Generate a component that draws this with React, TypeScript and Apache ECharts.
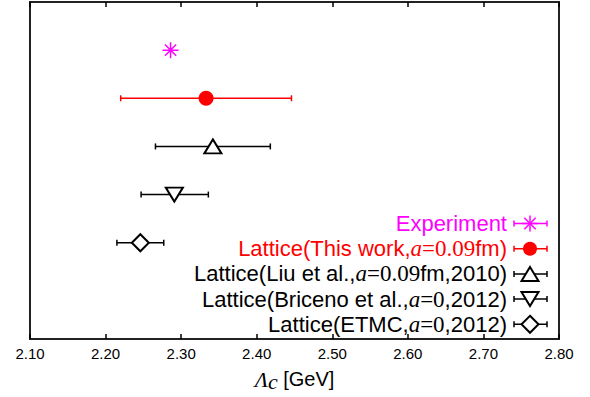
import React, { useEffect, useRef } from "react";
import * as echarts from "echarts";

const names = [
  "Experiment",
  "Lattice(This work,{i|a}{s|=0.09}fm)",
  "Lattice(Liu et al.,{i|a}{s|=0.09}fm,2010)",
  "Lattice(Briceno et al.,{i|a}{s|=0},2012)",
  "Lattice(ETMC,{i|a}{s|=0},2012)",
];
const centers = [2.286, 2.333, 2.342, 2.291, 2.246];
const lows = [2.286, 2.22, 2.266, 2.247, 2.215];
const highs = [2.286, 2.446, 2.418, 2.336, 2.277];
const rows = [6, 5, 4, 3, 2];
const xTicks = [2.1, 2.2, 2.3, 2.4, 2.5, 2.6, 2.7, 2.8];

const colors = ["#ff00ff", "#ff0000", "#000000", "#000000", "#000000"];
const ASTERISK = "path://M8 0L8 16M0 8L16 8M2.4 2.4L13.6 13.6M13.6 2.4L2.4 13.6";

const symbolDefs = [
  { symbol: ASTERISK, size: [16, 16], rotate: 0, fill: "none", stroke: "#ff00ff", bw: 1.5 },
  { symbol: "circle", size: 15, rotate: 0, fill: "#ff0000", stroke: "#ff0000", bw: 0 },
  { symbol: "triangle", size: [17, 14], rotate: 0, fill: "#ffffff", stroke: "#000000", bw: 2 },
  { symbol: "triangle", size: [17, 14], rotate: 180, fill: "#ffffff", stroke: "#000000", bw: 2 },
  { symbol: "diamond", size: [17, 17], rotate: 0, fill: "#ffffff", stroke: "#000000", bw: 2 },
];

const SANS = "'Liberation Sans', Arial, Helvetica, sans-serif";
const SERIF = "'Liberation Serif', 'Times New Roman', serif";

function legendGraphics() {
  const els: any[] = [];
  const x0 = 514;
  const x1 = 547;
  const cx = 530;
  names.forEach((n, i) => {
    const y = 223.5 + 25.2 * i;
    const col = colors[i];
    els.push({
      type: "text",
      x: 507,
      y: y,
      style: {
        text: n,
        fill: col,
        font: `22px ${SANS}`,
        align: "right",
        verticalAlign: "middle",
        rich: {
          i: { fontFamily: SERIF, fontStyle: "italic", fontSize: 23, fill: col },
          s: { fontFamily: SERIF, fontSize: 23, fill: col },
        },
      },
    });
    const lw = 1.5;
    els.push({ type: "line", shape: { x1: x0, y1: y, x2: x1, y2: y }, style: { stroke: col, lineWidth: lw } });
    els.push({ type: "line", shape: { x1: x0, y1: y - 3, x2: x0, y2: y + 3 }, style: { stroke: col, lineWidth: lw } });
    els.push({ type: "line", shape: { x1: x1, y1: y - 3, x2: x1, y2: y + 3 }, style: { stroke: col, lineWidth: lw } });
    if (i === 0) {
      const r = 8;
      const d = 5.7;
      [
        [cx, y - r, cx, y + r],
        [cx - r, y, cx + r, y],
        [cx - d, y - d, cx + d, y + d],
        [cx + d, y - d, cx - d, y + d],
      ].forEach((s) =>
        els.push({ type: "line", shape: { x1: s[0], y1: s[1], x2: s[2], y2: s[3] }, style: { stroke: col, lineWidth: 1.5 } })
      );
    } else if (i === 1) {
      els.push({ type: "circle", shape: { cx, cy: y, r: 7 }, style: { fill: col } });
    } else if (i === 2) {
      els.push({
        type: "polygon",
        shape: { points: [[cx, y - 7], [cx + 8.5, y + 7], [cx - 8.5, y + 7]] },
        style: { fill: "#fff", stroke: "#000", lineWidth: 2 },
      });
    } else if (i === 3) {
      els.push({
        type: "polygon",
        shape: { points: [[cx - 8.5, y - 7], [cx + 8.5, y - 7], [cx, y + 7]] },
        style: { fill: "#fff", stroke: "#000", lineWidth: 2 },
      });
    } else {
      els.push({
        type: "polygon",
        shape: { points: [[cx, y - 8.5], [cx + 8.5, y], [cx, y + 8.5], [cx - 8.5, y]] },
        style: { fill: "#fff", stroke: "#000", lineWidth: 2 },
      });
    }
  });
  return els;
}

export default function App() {
  const ref = useRef<HTMLDivElement>(null);
  useEffect(() => {
    if (!ref.current) return;
    const chart = echarts.init(ref.current, undefined, { renderer: "svg" });
    const errData = centers.map((c, i) => [c, lows[i], highs[i], rows[i]]);
    const ptData = centers.map((c, i) => {
      const s = symbolDefs[i];
      return {
        value: [c, rows[i]],
        symbol: s.symbol,
        symbolSize: s.size,
        symbolRotate: s.rotate,
        itemStyle: { color: s.fill, borderColor: s.stroke, borderWidth: s.bw, opacity: 1 },
      };
    });
    const axisCommon = {
      type: "value",
      min: xTicks[0],
      max: xTicks[xTicks.length - 1],
      interval: 0.1,
      splitLine: { show: false },
      axisLine: { show: false },
    };
    chart.setOption({
      animation: false,
      backgroundColor: "#ffffff",
      grid: {
        left: 30,
        right: 31,
        top: 2,
        bottom: 56,
        show: true,
        borderColor: "#222222",
        borderWidth: 2,
        backgroundColor: "transparent",
      },
      xAxis: [
        {
          ...axisCommon,
          position: "bottom",
          axisTick: { show: true, inside: true, length: 5, lineStyle: { color: "#000", width: 1.5 } },
          axisLabel: {
            show: true,
            margin: 7,
            fontSize: 15,
            color: "#000",
            fontFamily: SANS,
            formatter: (v: number) => v.toFixed(2),
          },
          name: "{l|Λ}{c|c} [GeV]",
          nameLocation: "middle",
          nameGap: 27,
          nameTextStyle: {
            fontSize: 20,
            color: "#000",
            fontFamily: SANS,
            rich: {
              l: { fontSize: 22, fontFamily: SERIF, fontStyle: "italic", color: "#000" },
              c: { fontSize: 22, fontFamily: SERIF, fontStyle: "italic", color: "#000", padding: [4, 0, 0, 0] },
            },
          },
        },
        {
          ...axisCommon,
          position: "top",
          axisTick: { show: true, inside: true, length: 5, lineStyle: { color: "#000", width: 1.5 } },
          axisLabel: { show: false },
        },
      ],
      yAxis: {
        type: "value",
        min: 0,
        max: 7,
        axisLine: { show: false },
        axisTick: { show: false },
        axisLabel: { show: false },
        splitLine: { show: false },
      },
      series: [
        {
          type: "custom",
          z: 1,
          data: errData,
          renderItem: (params: any, api: any) => {
            const lo = api.value(1);
            const hi = api.value(2);
            const y = api.value(3);
            if (hi - lo <= 0) return { type: "group", children: [] };
            const p1 = api.coord([lo, y]);
            const p2 = api.coord([hi, y]);
            const col = colors[params.dataIndex];
            const st = { stroke: col, lineWidth: 1.5 };
            return {
              type: "group",
              children: [
                { type: "line", shape: { x1: p1[0], y1: p1[1], x2: p2[0], y2: p2[1] }, style: st },
                { type: "line", shape: { x1: p1[0], y1: p1[1] - 3, x2: p1[0], y2: p1[1] + 3 }, style: st },
                { type: "line", shape: { x1: p2[0], y1: p2[1] - 3, x2: p2[0], y2: p2[1] + 3 }, style: st },
              ],
            };
          },
        },
        {
          type: "scatter",
          z: 3,
          data: ptData,
        },
      ],
      graphic: legendGraphics(),
    });
    return () => chart.dispose();
  }, []);
  return <div ref={ref} style={{ width: 590, height: 397, position: "absolute", left: 0, top: 0 }} />;
}
